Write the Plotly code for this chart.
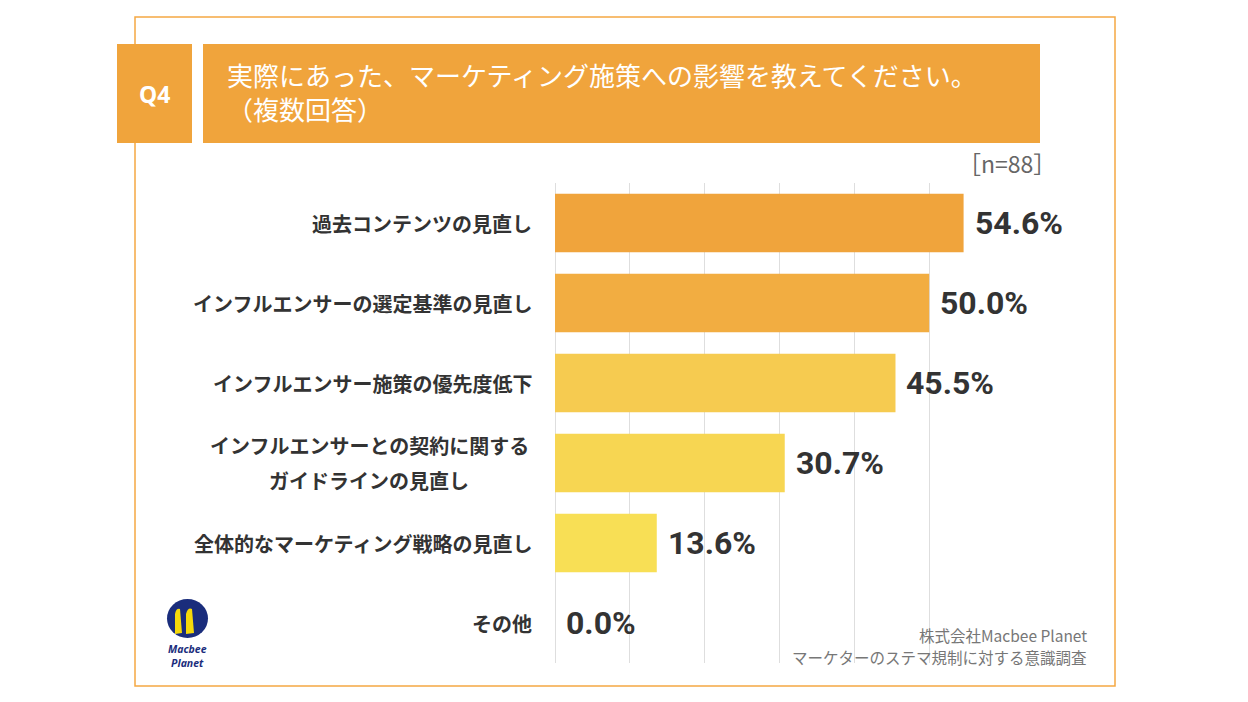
import plotly.graph_objects as go

categories = [
    "過去コンテンツの見直し",
    "インフルエンサーの選定基準の見直し",
    "インフルエンサー施策の優先度低下",
    "インフルエンサーとの契約に関する<br>ガイドラインの見直し",
    "全体的なマーケティング戦略の見直し",
    "その他",
]
values = [54.6, 50.0, 45.5, 30.7, 13.6, 0.0]
bar_colors = ["#F0A43C", "#F2AD41", "#F6CB50", "#F7D652", "#F8DF55", "#F8E257"]
title_text = "実際にあった、マーケティング施策への影響を教えてください。<br>（複数回答）"
n_text = "［n=88］"
source_lines = ["株式会社Macbee Planet", "マーケターのステマ規制に対する意識調査"]

W, H = 1248, 702
L, R, T, B = 555, 244, 183, 39
PW, PH = W - L - R, H - T - B


def px(x):
    return (x - L) / PW


def py(y):
    return (H - B - y) / PH


ykeys = [f"c{i}" for i in range(len(categories))]

fig = go.Figure()
fig.add_trace(go.Bar(
    x=values, y=ykeys, orientation="h",
    marker=dict(color=bar_colors, line=dict(width=0)),
    width=0.73, hoverinfo="skip",
))

JP = "Noto Sans CJK JP"
annotations = []
# value labels
for k, v in zip(ykeys, values):
    annotations.append(dict(
        x=v, y=k, xref="x", yref="y", xanchor="left", yanchor="middle",
        xshift=9, text=f"<b>{v:.1f}%</b>", showarrow=False,
        font=dict(family="Roboto", size=32, color="#333333"),
    ))
# category labels
for k, c in zip(ykeys, categories):
    lines = c.split("<br>")
    n = len(lines)
    if n > 1:
        for j, ln in enumerate(lines):
            shift = (n - 1) / 2 * 35 - j * 35
            annotations.append(dict(
                x=0, y=k, xref="x", yref="y", xanchor="center", yanchor="middle",
                xshift=-(555 - 369), yshift=shift,
                text=f"<b>{ln}</b>", showarrow=False,
                font=dict(family=JP, size=20, color="#333333"),
            ))
    else:
        annotations.append(dict(
            x=0, y=k, xref="x", yref="y", xanchor="right", yanchor="middle",
            xshift=-21, text=f"<b>{c}</b>", showarrow=False,
            font=dict(family=JP, size=20, color="#333333"),
        ))

# header texts
annotations.append(dict(
    x=px(154), y=py(94), xref="paper", yref="paper", xanchor="center", yanchor="middle",
    text="<b>Q4</b>", showarrow=False, font=dict(family="Noto Sans", size=23, color="white"),
))
annotations.append(dict(
    x=px(225), y=py(92), xref="paper", yref="paper", xanchor="left", yanchor="middle",
    text=title_text, align="left", showarrow=False,
    font=dict(family=JP, size=26, color="white"),
))
annotations.append(dict(
    x=px(1058), y=py(163), xref="paper", yref="paper", xanchor="right", yanchor="middle",
    text=n_text, showarrow=False, font=dict(family=JP, size=23, color="#666666"),
))
for i, s in enumerate(source_lines):
    annotations.append(dict(
        x=px(1089), y=py(635 + 22 * i), xref="paper", yref="paper",
        xanchor="right", yanchor="middle", text=s, align="right",
        showarrow=False, font=dict(family=JP, size=15.5, color="#777777"),
    ))
# logo text
annotations.append(dict(
    x=px(187), y=py(656), xref="paper", yref="paper", xanchor="center", yanchor="middle",
    text="<b><i>Macbee<br>Planet</i></b>", showarrow=False,
    font=dict(family="Noto Sans", size=10.5, color="#1A2D7C"),
))

shapes = [
    dict(type="rect", xref="paper", yref="paper", x0=px(135), x1=px(1115), y0=py(686), y1=py(17),
         line=dict(color="#F5A843", width=1.5), fillcolor="rgba(0,0,0,0)", layer="below"),
    dict(type="rect", xref="paper", yref="paper", x0=px(117), x1=px(192), y0=py(143), y1=py(44),
         line=dict(width=0), fillcolor="#F0A43C", layer="above"),
    dict(type="rect", xref="paper", yref="paper", x0=px(203), x1=px(1040), y0=py(143), y1=py(44),
         line=dict(width=0), fillcolor="#F0A43C", layer="above"),
    # logo
    dict(type="circle", xref="paper", yref="paper", x0=px(167), x1=px(208), y0=py(638), y1=py(599),
         line=dict(width=0), fillcolor="#1A2D7C", layer="above"),
    dict(type="path", xref="paper", yref="paper",
         path=(f"M {px(175)},{py(634)} L {px(175)},{py(614)} Q {px(176)},{py(608)} {px(180)},{py(609)} "
               f"L {px(182)},{py(633)} Z"),
         line=dict(width=0), fillcolor="#F5D90A", layer="above"),
    dict(type="path", xref="paper", yref="paper",
         path=(f"M {px(186)},{py(634)} L {px(186)},{py(614)} Q {px(188)},{py(607)} {px(192)},{py(609)} "
               f"L {px(194)},{py(633)} Z"),
         line=dict(width=0), fillcolor="#F5D90A", layer="above"),
]

fig.update_layout(
    width=W, height=H,
    margin=dict(l=L, r=R, t=T, b=B, autoexpand=False),
    paper_bgcolor="white", plot_bgcolor="white",
    showlegend=False,
    xaxis=dict(range=[0, 60], dtick=10, showgrid=True, gridcolor="#DEDEDE", gridwidth=1,
               showticklabels=False, zeroline=True, zerolinecolor="#DEDEDE", zerolinewidth=1,
               showline=False, fixedrange=True),
    yaxis=dict(categoryorder="array", categoryarray=ykeys, autorange="reversed",
               showticklabels=False, showgrid=False, zeroline=False, showline=False,
               fixedrange=True),
    annotations=annotations,
    shapes=shapes,
)

fig.write_html("out.html", config={"displayModeBar": False},
               post_script="document.body.style.margin='0';document.body.style.padding='0';")
